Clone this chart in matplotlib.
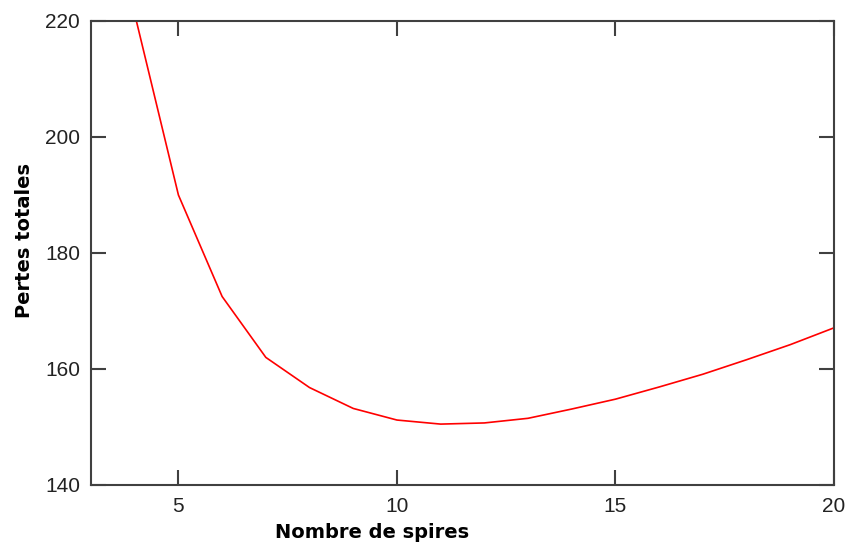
import numpy as np
import matplotlib
matplotlib.use("Agg")
import matplotlib.pyplot as plt

# nombre de spires / pertes totales
spires = [4, 5, 6, 7, 8, 9, 10, 11, 12, 13, 14, 15, 16, 17, 18, 19, 20]
pertes = [221.2, 190.0, 172.5, 162.0, 156.8, 153.2, 151.2, 150.5, 150.7,
          151.5, 153.1, 154.8, 156.9, 159.1, 161.6, 164.2, 167.1]

xticks = [5, 10, 15, 20]
yticks = [140, 160, 180, 200, 220]

fig = plt.figure(figsize=(8.51, 5.44), dpi=100)
ax = fig.add_axes([91 / 851, 59 / 544, 743 / 851, 464 / 544])

ax.plot(spires, pertes, color="#ff0000", lw=1.2)

ax.set_xlim(3, 20)
ax.set_ylim(140, 220)
ax.set_xticks(xticks)
ax.set_yticks(yticks)

for s in ax.spines.values():
    s.set_color("#404040")
    s.set_linewidth(1.5)

ax.tick_params(direction="in", length=11, width=1.5, color="#404040",
               top=True, right=True, labelsize=15, labelcolor="#222222",
               labelfontfamily="Liberation Sans")
ax.tick_params(axis="x", pad=9)
ax.tick_params(axis="y", pad=8)

# axis titles placed like in the original (x title is off-centre)
fig.text(372 / 851, 6.5 / 544, "Nombre de spires", fontsize=14,
         fontweight="bold", family="DejaVu Sans", ha="center", va="baseline")
fig.text(25 / 851, 1 - 240 / 544, "Pertes totales", fontsize=14,
         fontweight="bold", family="DejaVu Sans", ha="center", va="center",
         rotation=90)

fig.savefig("out.png", dpi=100)
